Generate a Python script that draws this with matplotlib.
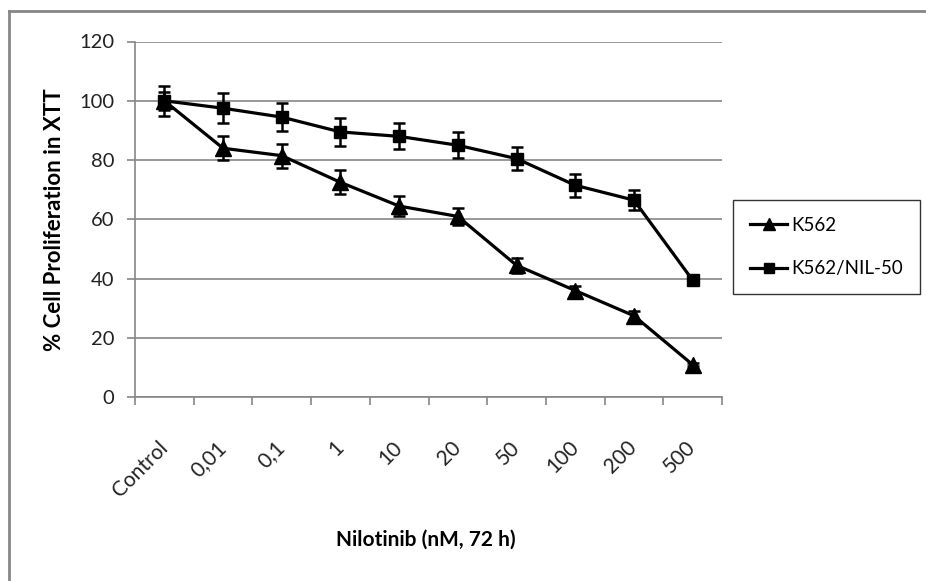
import numpy as np
import matplotlib.pyplot as plt
from matplotlib.lines import Line2D

plt.rcParams['font.family'] = ['Lato', 'DejaVu Sans']

doses = ['Control', '0,01', '0,1', '1', '10', '20', '50', '100', '200', '500']

k562 = [100, 84, 81.5, 72.5, 64.5, 61, 44.5, 36, 27.5, 11]
k562_err = [3, 4, 4, 4, 3.5, 3, 2.5, 1.5, 1.5, 0.5]

k562_nil = [100, 97.5, 94.5, 89.5, 88, 85, 80.5, 71.5, 66.5, 39.5]
k562_nil_err = [5, 5, 4.7, 4.6, 4.4, 4.4, 4, 3.9, 3.4, 1]

fig = plt.figure(figsize=(9.26, 5.81), dpi=100)
ax = fig.add_axes([135 / 926, 1 - 397.3 / 581, (722 - 135) / 926, (397.3 - 41.5) / 581])

grey = '#868686'
x = np.arange(len(doses))

# error bars first, then the lines + markers (these carry the legend entries)
for vals, errs in [(k562, k562_err), (k562_nil, k562_nil_err)]:
    ax.errorbar(x, vals, yerr=errs, fmt='none', ecolor='black', elinewidth=1.8,
                capsize=4, capthick=1.8, zorder=3)
ax.plot(x, k562, color='black', lw=2.3, marker='^', ms=11, label='K562', zorder=4)
ax.plot(x, k562_nil, color='black', lw=2.3, marker='s', ms=8.5, label='K562/NIL-50', zorder=4)

ax.set_xlim(-0.5, len(doses) - 0.5)
ax.set_ylim(0, 120)
ax.set_yticks(range(0, 121, 20))
ax.yaxis.grid(True, color=grey, lw=1.2)
ax.set_axisbelow(True)

# category labels at the centres, tick marks on the boundaries
ax.set_xticks(x)
ax.set_xticklabels(doses, rotation=45, ha='right', va='center', rotation_mode='anchor')
ax.set_xticks(np.arange(-0.5, len(doses)), minor=True)
ax.tick_params(axis='x', which='major', length=0, pad=34, labelsize=15, labelcolor='#222222')
ax.tick_params(axis='x', which='minor', length=6, color=grey, width=1.2)
ax.tick_params(axis='y', length=6, color=grey, width=1.2, labelsize=14.5, pad=9,
               labelcolor='#222222')

for side in ['top', 'right']:
    ax.spines[side].set_visible(False)
for side in ['left', 'bottom']:
    ax.spines[side].set_color(grey)
    ax.spines[side].set_linewidth(1.2)

ax.set_ylabel('% Cell Proliferation in XTT', fontsize=16, fontweight='bold', labelpad=10)
fig.text(426 / 926, 1 - 540 / 581, 'Nilotinib (nM, 72 h)', fontsize=15,
         fontweight='bold', ha='center', va='center')

leg = fig.legend(loc='center left', bbox_to_anchor=(733 / 926, 1 - 247 / 581),
                 borderaxespad=0, fontsize=13.5, frameon=True, fancybox=False,
                 edgecolor='black', handlelength=2.0, borderpad=0.9,
                 labelspacing=1.4, handletextpad=0.2, markerscale=0.85)
leg.get_frame().set_linewidth(1.0)

# chart-area border along the top and left edges
fig.add_artist(Line2D([9 / 926, 1], [1 - 11 / 581, 1 - 11 / 581], color=grey, lw=2,
                      transform=fig.transFigure))
fig.add_artist(Line2D([9 / 926, 9 / 926], [0, 1 - 11 / 581], color=grey, lw=2,
                      transform=fig.transFigure))

fig.savefig('out.png', dpi=100)
